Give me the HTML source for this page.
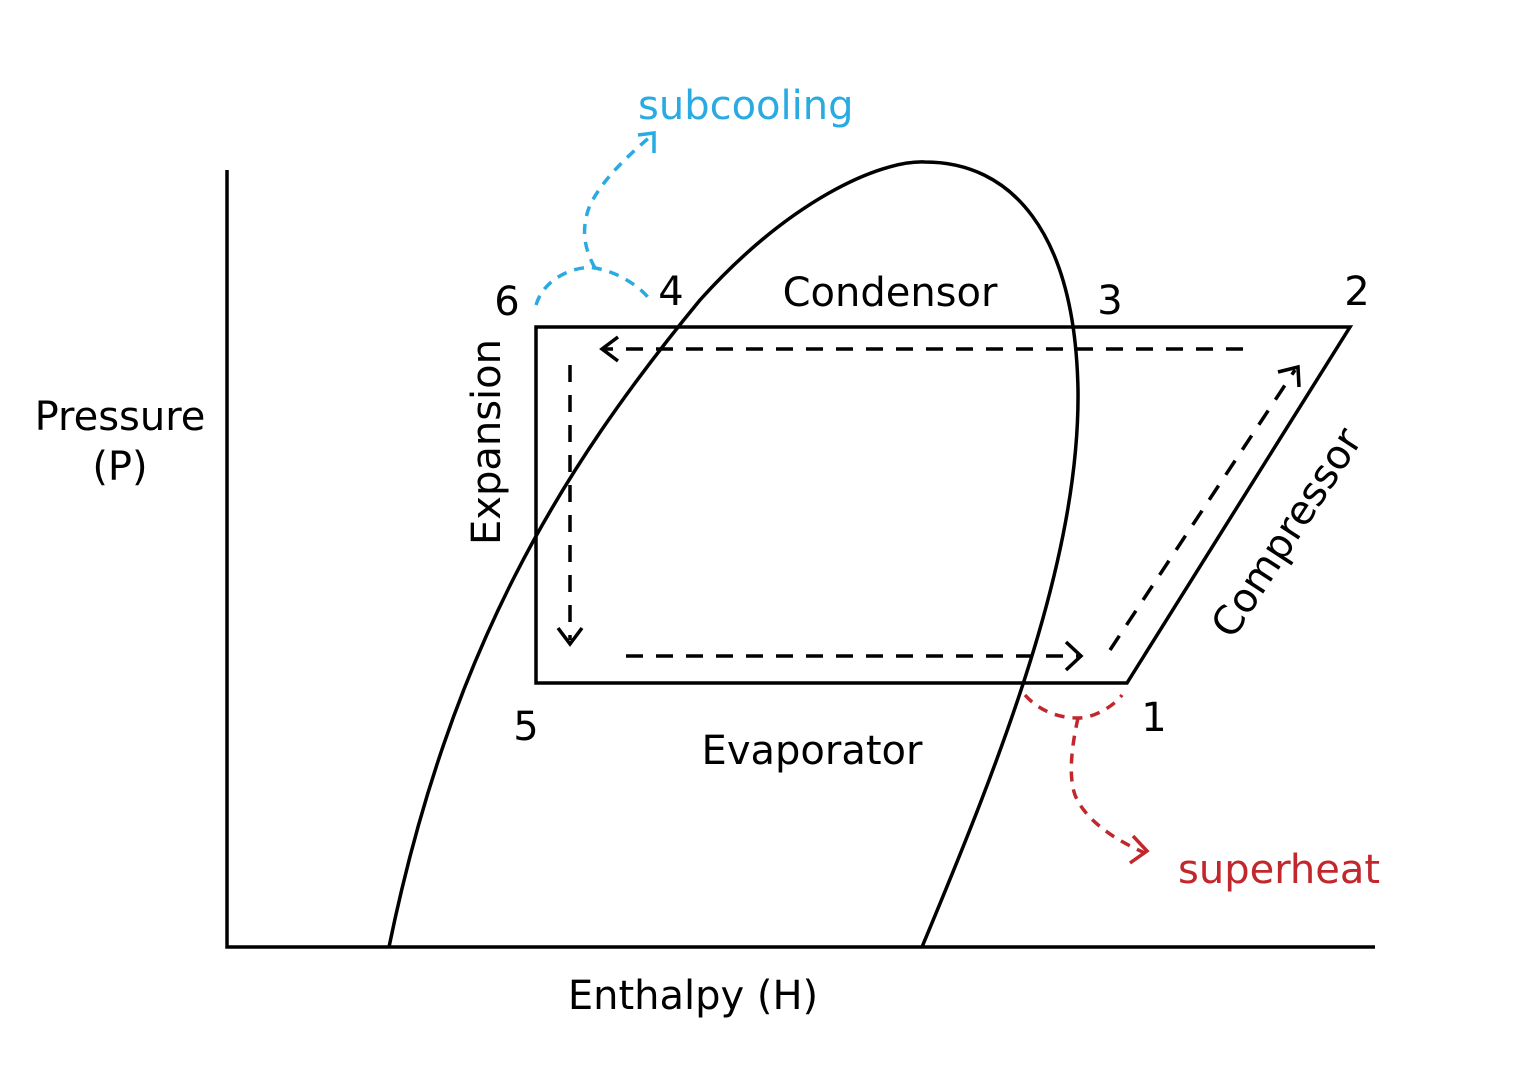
<!DOCTYPE html>
<html><head><meta charset="utf-8"><style>
html,body{margin:0;padding:0;background:#fff;}
svg{display:block;}
text{font-family:"DejaVu Sans","Liberation Sans",sans-serif;}
</style></head><body>
<svg width="1524" height="1080" viewBox="0 0 1524 1080" xmlns="http://www.w3.org/2000/svg">
<rect width="1524" height="1080" fill="#fff"/>
<g fill="none" stroke="#000" stroke-width="3.5">
<path d="M227,170 L227,947 L1375,947"/>
<path d="M389,947 C450,650 560,470 700,300 C790,200 880,160 925,162 C1010,162 1075,230 1078,390 C1080,560 1000,760 922,947"/>
<path d="M536,327 L1350,327 L1127,683 L536,683 Z"/>
</g>
<g fill="none" stroke="#000" stroke-width="3.5" stroke-dasharray="17,13">
<path d="M1243,349 L605,349"/>
<path d="M570,365 L570,640"/>
<path d="M626,656 L1078,656"/>
<path d="M1110,650 L1295,370"/>
</g>
<g fill="none" stroke="#000" stroke-width="3.5">
<path d="M618,337 L602,349 L618,361"/>
<path d="M558,628 L570,644 L582,628"/>
<path d="M1066,642 L1081,656 L1066,670"/>
<path d="M1278,372 L1298,367 L1299,387"/>
</g>
<g fill="none" stroke="#29abe2" stroke-width="3.5" stroke-dasharray="10,8">
<path d="M536,305 C545,275 580,265 595,268 C620,272 645,290 652,303"/>
<path d="M595,268 C585,250 580,230 590,205 C605,175 635,150 652,135"/>
</g>
<path d="M638,135 L654,133 L654,153" fill="none" stroke="#29abe2" stroke-width="3.5"/>
<g fill="none" stroke="#c1272d" stroke-width="3.5" stroke-dasharray="10,8">
<path d="M1025,695 C1040,712 1060,718 1078,718 C1095,718 1115,705 1122,695"/>
<path d="M1078,718 C1072,745 1068,775 1075,795 C1085,820 1115,840 1145,853"/>
</g>
<path d="M1133,836 L1147,851 L1130,863" fill="none" stroke="#c1272d" stroke-width="3.5"/>
<g font-size="40" fill="#000">
<text x="890" y="306" text-anchor="middle">Condensor</text>
<text x="812" y="764" text-anchor="middle">Evaporator</text>
<text transform="translate(500,442) rotate(-90)" text-anchor="middle">Expansion</text>
<text transform="translate(1298,540) rotate(-57)" text-anchor="middle">Compressor</text>
<text x="120" y="430" text-anchor="middle">Pressure</text>
<text x="120" y="480" text-anchor="middle">(P)</text>
<text x="693" y="1009" text-anchor="middle">Enthalpy (H)</text>
<text x="507" y="315" text-anchor="middle">6</text>
<text x="671" y="305" text-anchor="middle">4</text>
<text x="1110" y="314" text-anchor="middle">3</text>
<text x="1357" y="305" text-anchor="middle">2</text>
<text x="526" y="740" text-anchor="middle">5</text>
<text x="1154" y="731" text-anchor="middle">1</text>
<text x="638" y="119" fill="#29abe2">subcooling</text>
<text x="1178" y="883" fill="#c1272d">superheat</text>
</g>
</svg>
</body></html>
